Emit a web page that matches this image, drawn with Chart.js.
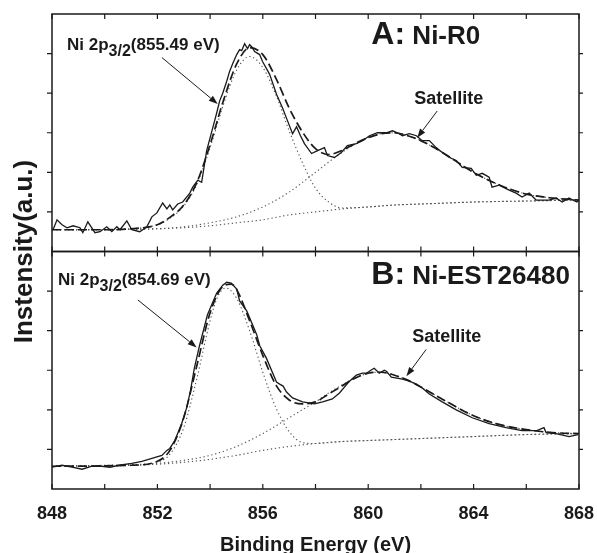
<!DOCTYPE html>
<html>
<head>
<meta charset="utf-8">
<script src="https://cdn.jsdelivr.net/npm/chart.js@4.4.1/dist/chart.umd.min.js"></script>
<style>
  html, body { margin: 0; background: #fff; }
  #wrap { position: relative; width: 597px; height: 553px; }
</style>
</head>
<body>
<div id="wrap"><canvas id="xps" width="597" height="553"></canvas></div>
<script>
// ---- data (binding energy eV, intensity a.u.) ----
// panel A: Ni-R0
const expA = [[848.04,22],[848.19,32],[848.38,27],[848.57,24],[848.80,26],[849.06,24],[849.17,19],[849.36,30],[849.63,19],[849.82,20],
  [850.08,25],[850.27,20],[850.46,25],[850.58,22],[850.84,31],[851.03,22],[851.33,20],[851.60,25],[851.79,35],[851.98,39],
  [852.20,49],[852.36,43],[852.47,47],[852.58,42],[852.77,48],[852.96,50],[853.23,59],[853.34,65],[853.53,72],[853.68,70],
  [853.87,102],[854.10,125],[854.25,140],[854.36,152],[854.48,160],[854.63,172],[854.74,182],[854.86,190],[855.01,199],[855.12,204],
  [855.20,203],[855.31,210],[855.42,205],[855.50,209],[855.58,207],[855.69,202],[855.88,199],[855.99,192],[856.26,179],[856.52,159],
  [856.75,145],[856.94,132],[857.13,119],[857.28,126],[857.43,117],[857.58,109],[857.85,99],[858.08,102],[858.34,105],[858.45,97],
  [858.72,95],[858.98,100],[859.21,107],[859.55,109],[859.78,112],[860.05,117],[860.35,120],[860.69,120],[860.92,122],[861.11,120],
  [861.30,117],[861.56,119],[861.83,117],[862.05,112],[862.32,112],[862.58,105],[862.81,100],[863.08,95],[863.34,92],[863.57,85],
  [863.91,84],[864.10,77],[864.33,79],[864.59,75],[864.70,65],[864.97,67],[865.35,62],[865.61,59],[865.84,55],[866.11,59],
  [866.37,52],[866.60,52],[866.86,52],[867.13,54],[867.36,50],[867.62,54],[867.92,50],[868.00,52]];
const fitA = [[848,22],[850,22],[851,23],[852,27],[852.5,35],[853,47],[853.5,70],[854,108],[854.5,152],[855,189],[855.5,206],
  [856,199],[856.5,175],[857,145],[857.5,121],[858,104],[858.5,98],[859,102],[859.5,109],[860,115],[860.5,119],[861,120],
  [861.5,117],[862,112],[862.5,105],[863,97],[864,80],[865,67],[866,58],[867,54],[868,52]];
const mainA = [[848,22],[850,22],[851,23],[852,27],[852.5,34],[853,46],[853.5,68],[854,105],[854.5,148],[855,183],[855.5,197],
  [856,186],[856.5,158],[857,122],[857.5,90],[858,64],[858.5,50],[859,44],[860,45],[861,47],[862,48],[864,50],[866,51],[868,52]];
const satA = [[848,22],[852,23],[853,25],[854,29],[855,35],[856,45],[857,60],[858,80],[859,100],[860,115],[860.8,120],
  [861.5,117],[862,112],[863,97],[864,80],[865,67],[866,58],[867,54],[868,52]];
const bgA = [[848,22],[850,22],[852,23],[853,24],[854,26],[855,29],[856,32],[857,37],[858,40],[859,43],[860,45],[861,47],
  [862,48],[863,49],[864,50],[866,51],[868,52]];

// panel B: Ni-EST26480
const expB = [[848.00,22],[848.38,24],[848.76,22],[849.14,20],[849.52,23],[849.89,23],[850.20,22],[850.54,24],[851.03,26],[851.41,28],
  [851.79,31],[852.17,34],[852.36,39],[852.47,41],[852.66,49],[852.92,66],[853.11,82],[853.26,100],[853.40,122],[853.60,145],
  [853.90,176],[854.25,198],[854.48,206],[854.63,209],[854.80,208],[855.01,202],[855.12,190],[855.39,180],[855.77,156],[855.88,145],
  [856.14,132],[856.52,108],[856.64,106],[856.77,104],[856.90,98],[857.13,92],[857.51,88],[857.96,86],[858.27,88],[858.64,91],
  [858.91,97],[859.29,109],[859.55,115],[859.78,117],[859.93,117],[860.16,121],[860.23,122],[860.42,117],[860.61,120],[860.69,119],
  [860.88,113],[861.30,111],[861.56,109],[861.83,106],[862.05,102],[862.32,96],[862.81,88],[863.34,80],[863.95,72],[864.59,66],
  [865.23,62],[865.84,59],[866.40,59],[866.67,62],[866.75,57],[867.13,56],[867.62,53],[867.96,55]];
const fitB = [[848,23],[851,24],[852,28],[852.5,40],[853,72],[853.5,125],[854,178],[854.5,205],[854.8,207],[855,202],[855.5,170],
  [856,135],[856.5,105],[857,90],[857.5,86],[858,88],[858.5,96],[859,104],[859.5,112],[860,117],[860.5,118],[861,115],
  [861.5,110],[862,103],[863,88],[864,74],[865,65],[866,60],[867,57],[868,56]];
const mainB = [[848,23],[851,24],[852,27],[852.5,36],[853,62],[853.5,112],[854,170],[854.3,195],[854.6,203],[855,193],[855.5,160],
  [856,118],[856.5,82],[857,58],[857.5,47],[858,46],[859,48],[860,49],[861,50],[862,51],[864,53],[866,55],[868,56]];
const satB = [[848,23],[852,26],[853,29],[854,34],[855,43],[856,56],[857,72],[857.5,80],[858,88],[858.5,97],[859,105],[859.5,112],
  [860,117],[860.5,118],[861,115],[861.5,110],[862,103],[863,88],[864,74],[865,65],[866,60],[867,57],[868,56]];
const bgB = [[848,23],[850,23],[851,24],[852,25],[853,27],[854,30],[855,34],[856,39],[857,43],[858,46],[859,48],[860,49],
  [861,50],[862,51],[863,52],[864,53],[866,55],[868,56]];

const xMinorTicks = [848, 850, 852, 854, 856, 858, 860, 862, 864, 866, 868];
const yTicks = [40, 80, 120, 160, 200];

const FONT = "'Liberation Sans', Arial, Helvetica, sans-serif";
const INK = '#1a1a1a';

const toXY = arr => arr.map(p => ({ x: p[0], y: p[1] }));

function solid(arr, axis) {
  return { data: toXY(arr), yAxisID: axis, borderColor: INK, borderWidth: 1.3, pointRadius: 0, tension: 0, order: 1 };
}
function dashed(arr, axis) {
  return { data: toXY(arr), yAxisID: axis, borderColor: INK, borderWidth: 1.7, borderDash: [9, 4],
           pointRadius: 0, cubicInterpolationMode: 'monotone', order: 2 };
}
function dotted(arr, axis) {
  return { data: toXY(arr), yAxisID: axis, borderColor: '#555', borderWidth: 1.1, borderDash: [1.3, 2.7],
           pointRadius: 0, cubicInterpolationMode: 'monotone', order: 3 };
}

// text with a lowered "3/2" part
function richText(ctx, parts, x, y) {
  let cx = x;
  parts.forEach(p => {
    ctx.font = 'bold ' + p.size + 'px ' + FONT;
    ctx.fillText(p.t, cx, y + (p.dy || 0));
    cx += ctx.measureText(p.t).width;
  });
}

function arrow(ctx, x1, y1, x2, y2) {
  const ang = Math.atan2(y2 - y1, x2 - x1);
  const len = 9, half = 3.2;
  ctx.beginPath();
  ctx.moveTo(x1, y1);
  ctx.lineTo(x2 - len * Math.cos(ang), y2 - len * Math.sin(ang));
  ctx.stroke();
  ctx.beginPath();
  ctx.moveTo(x2, y2);
  ctx.lineTo(x2 - len * Math.cos(ang) + half * Math.sin(ang), y2 - len * Math.sin(ang) - half * Math.cos(ang));
  ctx.lineTo(x2 - len * Math.cos(ang) - half * Math.sin(ang), y2 - len * Math.sin(ang) + half * Math.cos(ang));
  ctx.closePath();
  ctx.fill();
}

// panel labels, in data coordinates
const notes = {
  yA: { peak: [848.57, 204, '855.49'], arrowPeak: [852.17, 196, 854.29, 149],
        title: [860.12, 210, 'A:', 'Ni-R0'], sat: [861.75, 149], arrowSat: [862.62, 142, 861.86, 115] },
  yB: { peak: [848.23, 206, '854.69'], arrowPeak: [851.26, 191, 853.49, 143],
        title: [860.12, 207, 'B:', 'Ni-EST26480'], sat: [861.67, 149], arrowSat: [862.20, 141, 861.45, 114] }
};

const framePlugin = {
  id: 'frame',
  afterDatasetsDraw(chart) {
    const { ctx, chartArea: a, scales } = chart;
    const x = scales.x;
    ctx.save();
    ctx.strokeStyle = INK;
    ctx.fillStyle = INK;
    ['yA', 'yB'].forEach(id => {
      const y = scales[id];
      ctx.lineWidth = 1.5;
      ctx.strokeRect(a.left, y.top, a.right - a.left, y.bottom - y.top);
      ctx.lineWidth = 1.2;
      ctx.beginPath();
      xMinorTicks.forEach(v => {
        const px = x.getPixelForValue(v);
        ctx.moveTo(px, y.top); ctx.lineTo(px, y.top + 5);
        ctx.moveTo(px, y.bottom); ctx.lineTo(px, y.bottom - 5);
      });
      yTicks.forEach(v => {
        const py = y.getPixelForValue(v);
        ctx.moveTo(a.left, py); ctx.lineTo(a.left - 5, py);
        ctx.moveTo(a.right, py); ctx.lineTo(a.right + 4, py);
      });
      ctx.stroke();

      const n = notes[id];
      ctx.textBaseline = 'alphabetic';
      ctx.textAlign = 'left';
      richText(ctx, [{ t: 'Ni 2p', size: 17 }, { t: '3/2', size: 16, dy: 6 }, { t: '(' + n.peak[2] + ' eV)', size: 17 }],
        x.getPixelForValue(n.peak[0]), y.getPixelForValue(n.peak[1]));
      richText(ctx, [{ t: n.title[2], size: 32 }, { t: ' ' + n.title[3], size: 26 }],
        x.getPixelForValue(n.title[0]), y.getPixelForValue(n.title[1]));
      richText(ctx, [{ t: 'Satellite', size: 18 }], x.getPixelForValue(n.sat[0]), y.getPixelForValue(n.sat[1]));
      ctx.lineWidth = 1;
      const ap = n.arrowPeak, as = n.arrowSat;
      arrow(ctx, x.getPixelForValue(ap[0]), y.getPixelForValue(ap[1]), x.getPixelForValue(ap[2]), y.getPixelForValue(ap[3]));
      arrow(ctx, x.getPixelForValue(as[0]), y.getPixelForValue(as[1]), x.getPixelForValue(as[2]), y.getPixelForValue(as[3]));
    });

    // shared y title
    ctx.translate(32, (scales.yA.top + scales.yB.bottom) / 2);
    ctx.rotate(-Math.PI / 2);
    ctx.textAlign = 'center';
    ctx.font = 'bold 26px ' + FONT;
    ctx.fillText('Instensity(a.u.)', 0, 0);
    ctx.restore();
  }
};

const yAxis = {
  type: 'linear', min: 0, max: 240, position: 'left', stack: 'panels', stackWeight: 1,
  grid: { display: false }, border: { display: false }, ticks: { display: false },
  afterFit: s => { s.width = 0; }
};

new Chart(document.getElementById('xps'), {
  type: 'line',
  data: {
    datasets: [
      solid(expA, 'yA'), dashed(fitA, 'yA'), dotted(mainA, 'yA'), dotted(satA, 'yA'), dotted(bgA, 'yA'),
      solid(expB, 'yB'), dashed(fitB, 'yB'), dotted(mainB, 'yB'), dotted(satB, 'yB'), dotted(bgB, 'yB')
    ]
  },
  options: {
    responsive: false,
    animation: false,
    devicePixelRatio: 1,
    layout: { padding: { left: 52, right: 18, top: 14, bottom: 0 } },
    plugins: { legend: { display: false }, tooltip: { enabled: false } },
    scales: {
      x: {
        type: 'linear', min: 848, max: 868,
        grid: { display: false }, border: { display: false },
        ticks: { stepSize: 4, padding: 6, color: INK, font: { family: FONT, size: 18, weight: 'bold' } },
        title: { display: true, text: 'Binding Energy (eV)', color: INK, padding: { top: 5, bottom: -4 },
                 font: { family: FONT, size: 20, weight: 'bold' } },
        afterFit: s => { s.height = 64; s.paddingLeft = 0; s.paddingRight = 0; }
      },
      yB: Object.assign({}, yAxis),
      yA: Object.assign({}, yAxis)
    }
  },
  plugins: [framePlugin]
});
</script>
</body>
</html>
